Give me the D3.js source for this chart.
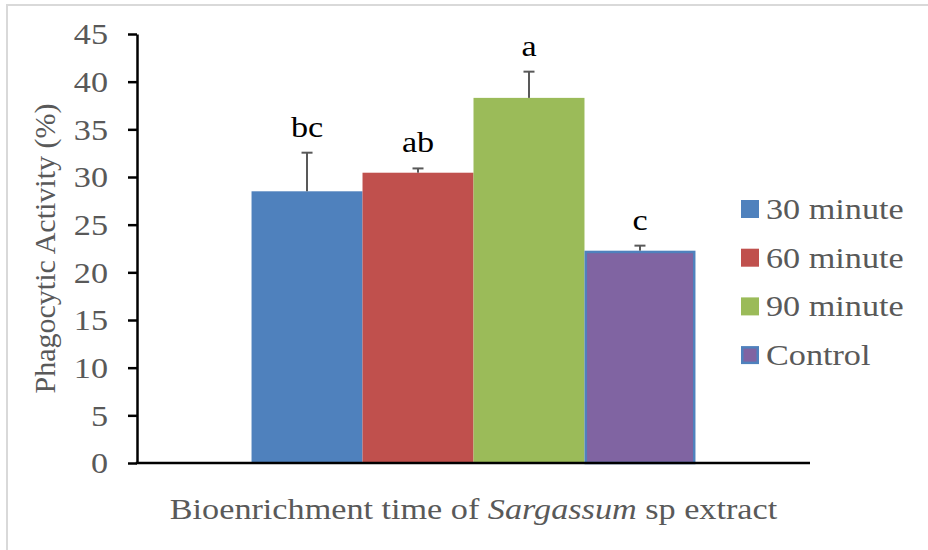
<!DOCTYPE html>
<html>
<head>
<meta charset="utf-8">
<script src="https://cdn.jsdelivr.net/npm/d3@7"></script>
<style>
  html, body { margin: 0; padding: 0; background: #fff; }
  svg { display: block; }
  text { font-family: "Liberation Serif", "Times New Roman", serif; }
</style>
</head>
<body>
<svg id="chart" width="928" height="550"></svg>
<script>
// ---- Data ----
const category = ["Bioenrichment time of Sargassum sp extract"];
const series = ["30 minute", "60 minute", "90 minute", "Control"];
const values = [28.5, 30.45, 38.3, 22.27];
const errors = [4.05, 0.45, 2.75, 0.53];
const letters = ["bc", "ab", "a", "c"];
const yTicks = [0, 5, 10, 15, 20, 25, 30, 35, 40, 45];
const colors = ["#4F81BD", "#C0504D", "#9BBB59", "#8064A2"];
const strokes = [null, null, null, "#4F81BD"];

const W = 928, H = 550;
const margin = { left: 137, right: 118, top: 34, bottom: 87 };
const sx = 1.14; // horizontal text stretch
const svg = d3.select("#chart");

svg.append("rect").attr("width", W).attr("height", H).attr("fill", "#fff");
// outer frame (top + left edges)
svg.append("path").attr("d", `M7,550V5H928`).attr("fill", "none")
  .attr("stroke", "#D9D9D9").attr("stroke-width", 2);

const y = d3.scaleLinear().domain([0, 45]).range([H - margin.bottom, margin.top]);
const x0 = d3.scaleBand().domain(category).range([margin.left, W - margin.right])
  .paddingInner(0).paddingOuter(0.258);
const x1 = d3.scaleBand().domain(series).range([0, x0.bandwidth()]).padding(0);

const g = svg.append("g");

// bars
const gx = x0(category[0]);
series.forEach((s, i) => {
  const sw = strokes[i] ? 2.5 : 0;
  g.append("rect")
    .attr("x", gx + x1(s) + sw / 2)
    .attr("y", y(values[i]) + sw / 2)
    .attr("width", x1.bandwidth() - sw)
    .attr("height", y(0) - y(values[i]) - sw / 2)
    .attr("fill", colors[i])
    .attr("stroke", strokes[i] || "none")
    .attr("stroke-width", sw);
});

// error bars (upper only)
series.forEach((s, i) => {
  const cx = gx + x1(s) + x1.bandwidth() / 2;
  const top = y(values[i] + errors[i]);
  g.append("line").attr("x1", cx).attr("x2", cx)
    .attr("y1", y(values[i])).attr("y2", top)
    .attr("stroke", "#595959").attr("stroke-width", 2);
  g.append("line").attr("x1", cx - 5.5).attr("x2", cx + 5.5)
    .attr("y1", top).attr("y2", top)
    .attr("stroke", "#595959").attr("stroke-width", 2);
  g.append("text")
    .attr("transform", `translate(${cx},${top - 16}) scale(${sx},1)`)
    .attr("text-anchor", "middle")
    .attr("font-size", 30)
    .attr("fill", "#000")
    .text(letters[i]);
});

// y axis
const yAxis = svg.append("g").attr("transform", `translate(${margin.left},0)`)
  .call(d3.axisLeft(y).tickValues(yTicks).tickSize(9).tickPadding(20).tickSizeOuter(0));
yAxis.select(".domain").attr("stroke", "#000").attr("stroke-width", 2.5);
yAxis.selectAll(".tick line").attr("stroke", "#000").attr("stroke-width", 2.5);
yAxis.selectAll(".tick text")
  .attr("font-family", "Liberation Serif")
  .attr("font-size", 30)
  .attr("fill", "#595959")
  .attr("dy", "0.33em")
  .attr("transform", `translate(-29,0) scale(${sx},1) translate(29,0)`);

// x axis line
svg.append("line").attr("x1", margin.left - 1.25).attr("x2", W - margin.right)
  .attr("y1", y(0)).attr("y2", y(0))
  .attr("stroke", "#000").attr("stroke-width", 2.5);

// y axis title
svg.append("text")
  .attr("transform", `translate(55,${(y(0) + y(45)) / 2}) rotate(-90)`)
  .attr("text-anchor", "middle")
  .attr("font-size", 30)
  .attr("fill", "#595959")
  .text("Phagocytic Activity (%)");

// x axis title
const xt = svg.append("text")
  .attr("transform", `translate(${(margin.left + W - margin.right) / 2},519) scale(${sx},1)`)
  .attr("text-anchor", "middle")
  .attr("font-size", 30)
  .attr("fill", "#595959");
xt.append("tspan").text("Bioenrichment time of ");
xt.append("tspan").attr("font-style", "italic").text("Sargassum");
xt.append("tspan").text(" sp extract");

// legend
const legend = svg.append("g");
series.forEach((s, i) => {
  const cy = 209 + i * 48.7;
  const sw = strokes[i] ? 2.5 : 0;
  legend.append("rect")
    .attr("x", 741 + sw / 2).attr("y", cy - 9 + sw / 2)
    .attr("width", 18 - sw).attr("height", 18 - sw)
    .attr("fill", colors[i])
    .attr("stroke", strokes[i] || "none").attr("stroke-width", sw);
  legend.append("text")
    .attr("transform", `translate(766,${cy + 10}) scale(${sx},1)`)
    .attr("font-size", 30)
    .attr("fill", "#595959")
    .text(s);
});
</script>
</body>
</html>
